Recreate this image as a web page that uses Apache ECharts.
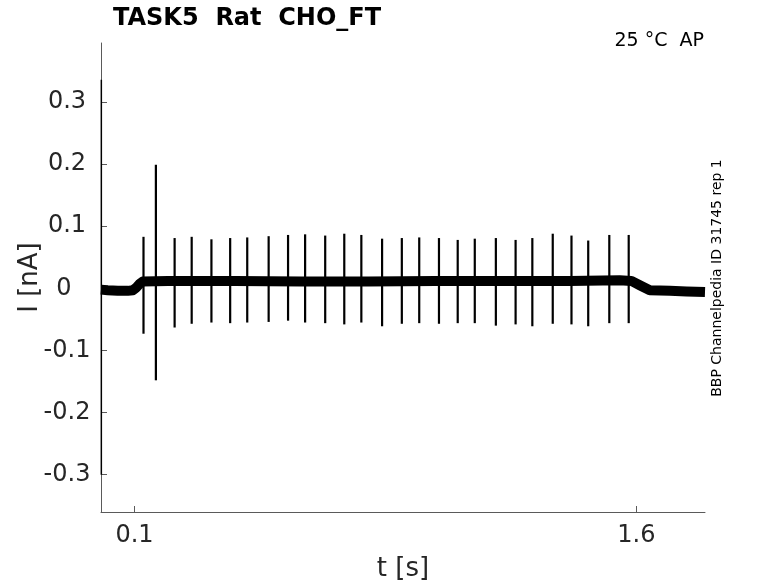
<!DOCTYPE html>
<html>
<head>
<meta charset="utf-8">
<script src="https://cdn.jsdelivr.net/npm/echarts@6/dist/echarts.min.js"></script>
<style>html,body{margin:0;padding:0;background:#fff}#c{width:778px;height:583px}</style>
</head>
<body>
<div id="c"></div>
<script>
// ---- data ----
var xTickValues = [0.1, 1.6];
var yTickValues = [-0.3, -0.2, -0.1, 0, 0.1, 0.2, 0.3];

// baseline (centre of the noisy holding-current band)
var baseTimes  = [0, 0.02, 0.05, 0.08, 0.095, 0.105, 0.115, 0.125, 0.2, 0.4, 0.6, 0.8, 1.0, 1.2, 1.4, 1.55, 1.585, 1.61, 1.64, 1.7, 1.75, 1.805];
var baseValues = [-0.002, -0.003, -0.004, -0.004, -0.003, 0.001, 0.007, 0.011, 0.012, 0.012, 0.011, 0.011, 0.012, 0.012, 0.012, 0.013, 0.012, 0.005, -0.003, -0.004, -0.005, -0.006];

// action-potential currents
var spikeTimes   = [0.127,0.164,0.220,0.271,0.330,0.386,0.437,0.501,0.559,0.610,0.670,0.727,0.778,0.840,0.899,0.951,1.010,1.066,1.117,1.180,1.239,1.289,1.350,1.406,1.456,1.519,1.577];
var spikePeaks   = [0.083,0.199,0.081,0.083,0.079,0.081,0.082,0.084,0.086,0.087,0.085,0.088,0.086,0.080,0.081,0.082,0.081,0.078,0.080,0.081,0.078,0.081,0.088,0.085,0.077,0.086,0.086];
var spikeTroughs = [-0.073,-0.148,-0.063,-0.057,-0.055,-0.056,-0.055,-0.054,-0.052,-0.055,-0.056,-0.058,-0.055,-0.061,-0.057,-0.056,-0.057,-0.056,-0.056,-0.060,-0.058,-0.061,-0.057,-0.058,-0.061,-0.056,-0.056];

// capacitive transient at t = 0
var transientTime = [0.001];
var transientPeak = [0.336];
var transientTrough = [-0.300];

// ---- build series data ----
var baseData = baseTimes.map(function (t, i) { return [t, baseValues[i]]; });
var spikeData = spikeTimes.map(function (t, i) { return [t, spikePeaks[i], spikeTroughs[i]]; });
var transData = transientTime.map(function (t, i) { return [t, transientPeak[i], transientTrough[i]]; });

var FONT = 'DejaVu Sans';
var chart = echarts.init(document.getElementById('c'), null, {renderer: 'canvas'});

function spikeRender(width) {
  return function (params, api) {
    var p1 = api.coord([api.value(0), api.value(1)]);
    var p2 = api.coord([api.value(0), api.value(2)]);
    return {
      type: 'line',
      shape: {x1: p1[0], y1: p1[1], x2: p2[0], y2: p2[1]},
      style: {stroke: '#000', lineWidth: width}
    };
  };
}

function fmt(v) { return String(Math.round(v * 10) / 10); }

chart.setOption({
  animation: false,
  backgroundColor: '#fff',
  title: [
    {text: 'TASK5  Rat  CHO_FT', left: 108, top: 2,
     textStyle: {fontFamily: FONT, fontSize: 24, fontWeight: 'bold', color: '#000'}},
    {text: '25 °C  AP', right: 69, top: 27,
     textStyle: {fontFamily: FONT, fontSize: 19, fontWeight: 'normal', color: '#000'}}
  ],
  graphic: [{
    type: 'text', x: 717, y: 278, rotation: Math.PI / 2,
    style: {text: 'BBP Channelpedia ID 31745 rep 1', fontFamily: FONT, fontSize: 14,
            fill: '#000', textAlign: 'center', textVerticalAlign: 'middle'}
  }],
  grid: {left: 101, top: 43, width: 604, height: 469, outerBoundsMode: 'none', containLabel: false},
  xAxis: {
    type: 'value', min: 0, max: 1.805,
    name: 't [s]', nameLocation: 'middle', nameGap: 44,
    nameTextStyle: {fontFamily: FONT, fontSize: 26, color: '#262626'},
    axisLine: {show: true, onZero: false, lineStyle: {color: '#5a5a5a', width: 1}},
    axisTick: {show: true, inside: true, length: 6, customValues: xTickValues, lineStyle: {color: '#5a5a5a'}},
    axisLabel: {customValues: xTickValues, margin: 12, fontFamily: FONT, fontSize: 24, color: '#262626',
                formatter: fmt},
    splitLine: {show: false}
  },
  yAxis: {
    type: 'value', min: -0.36, max: 0.395,
    name: 'I [nA]', nameLocation: 'middle', nameGap: 58, nameMoveOverlap: false,
    nameTextStyle: {fontFamily: FONT, fontSize: 26, color: '#262626'},
    axisLine: {show: true, onZero: false, lineStyle: {color: '#5a5a5a', width: 1}},
    axisTick: {show: true, inside: true, length: 6, customValues: yTickValues, lineStyle: {color: '#5a5a5a'}},
    axisLabel: {customValues: yTickValues, margin: 34, align: 'center', fontFamily: FONT, fontSize: 24, color: '#262626',
                formatter: function (v) { var s = fmt(v); return s === '0' ? '{z|0}' : s; },
                rich: {z: {fontFamily: FONT, fontSize: 24, color: '#262626', padding: [0, 6, 0, 0]}}},
    splitLine: {show: false}
  },
  series: [
    {type: 'line', data: baseData, symbol: 'none', smooth: false, z: 2,
     lineStyle: {color: '#000', width: 10, cap: 'butt', join: 'round'}},
    {type: 'custom', data: spikeData, renderItem: spikeRender(2.2), z: 3,
     encode: {x: 0, y: [1, 2]}},
    {type: 'custom', data: transData, renderItem: spikeRender(1.5), z: 3,
     encode: {x: 0, y: [1, 2]}}
  ]
});
</script>
</body>
</html>
